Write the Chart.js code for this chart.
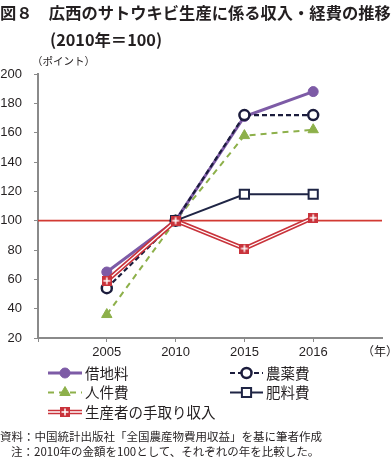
<!DOCTYPE html>
<html><head><meta charset="utf-8">
<script src="https://cdn.jsdelivr.net/npm/chart.js@4"></script>
<style>
html,body{margin:0;padding:0;background:#fff;}
#wrap{position:relative;width:392px;height:459px;overflow:hidden;font-family:"Noto Sans CJK JP",sans-serif;color:#231f20;}
canvas{position:absolute;left:0;top:0;}
.t{position:absolute;white-space:nowrap;line-height:1;}
</style></head><body>
<div id="wrap">
<canvas id="c" width="392" height="459"></canvas>
<div class="t" style="left:0;top:4px;font-size:16.3px;font-weight:700;">図８　広西のサトウキビ生産に係る収入・経費の推移</div>
<div class="t" style="left:50px;top:31px;font-size:16.3px;font-weight:700;">(2010年＝100)</div>
<div class="t" style="left:32px;top:56px;font-size:10.5px;">（ポイント）</div>
<div class="t" style="left:362px;top:345px;font-size:12px;">（年）</div>
<div class="t" style="left:0;top:431px;font-size:11.5px;">資料：中国統計出版社「全国農産物費用収益」を基に筆者作成</div>
<div class="t" style="left:11px;top:446px;font-size:11.5px;">注：2010年の金額を100として、それぞれの年を比較した。</div>
</div>
<script>
// ---- data ----
const categories = ['2005', '2010', '2015', '2016'];
const rent   = [65, 100, 171, 188];   // 借地料
const pest   = [54, 100, 172, 172];   // 農薬費
const labor  = [36, 100, 158, 162];   // 人件費
const fert   = [null, 100, 118, 118]; // 肥料費
const income = [59, 100, 81, 102];    // 生産者の手取り収入
const baseLine = [100, 100];          // 基準線 (2010年=100)
const yTicks = [20, 40, 60, 80, 100, 120, 140, 160, 180, 200];

const pts = arr => arr.map((v, i) => ({x: i + 1, y: v}));

// red square marker with white cross
function makeIncomeMarker(s) {
  const c = document.createElement('canvas');
  c.width = s; c.height = s;
  const g = c.getContext('2d');
  g.fillStyle = '#C9333B';
  g.fillRect(0, 0, s, s);
  g.strokeStyle = '#fff';
  g.lineWidth = 1.5;
  g.beginPath();
  g.moveTo(s/2, 1.5); g.lineTo(s/2, s-1.5);
  g.moveTo(1.5, s/2); g.lineTo(s-1.5, s/2);
  g.stroke();
  return c;
}
const incomeMarker = makeIncomeMarker(10);

const RED = '#C9333B', PURPLE = '#7D5BA6', NAVY = '#1B1C3C', GREEN = '#8DB04A', NAVY2 = '#1F2545';

const datasets = [
  {label: '基準', data: [{x: 0, y: baseLine[0]}, {x: 5, y: baseLine[1]}], borderColor: '#D23A33', borderWidth: 1.6, pointRadius: 0, order: 20},
  {label: '人件費', data: pts(labor), borderColor: GREEN, borderWidth: 2, borderDash: [6, 5], pointStyle: 'triangle', pointRadius: 6, pointBackgroundColor: GREEN, pointBorderColor: GREEN, pointBorderWidth: 1, order: 9},
  {label: '肥料費', data: pts(fert), borderColor: NAVY2, borderWidth: 2, pointStyle: 'rect', pointRadius: 6.5, pointBackgroundColor: '#fff', pointBorderColor: NAVY2, pointBorderWidth: 2, order: 8},
  {label: '借地料', data: pts(rent), borderColor: PURPLE, borderWidth: 3, pointStyle: 'circle', pointRadius: 5, pointBackgroundColor: PURPLE, pointBorderColor: PURPLE, pointBorderWidth: 1, order: 7},
  {label: '農薬費', data: pts(pest), borderColor: NAVY, borderWidth: 2.2, borderDash: [5, 3], pointStyle: 'circle', pointRadius: 5, pointBackgroundColor: '#fff', pointBorderColor: NAVY, pointBorderWidth: 2.5, order: 6},
  {label: '生産者の手取り収入', data: pts(income), borderColor: RED, borderWidth: 4.6, pointRadius: 0, order: 3},
  {label: '_incomeInner', data: pts(income), borderColor: '#fff', borderWidth: 1.3, pointRadius: 0, order: 2},
  {label: '_incomeMarks', data: pts(income), showLine: false, pointStyle: incomeMarker, pointRadius: 5, order: 1}
];

// legend drawn from datasets' styles
const legendItems = [
  {label: '借地料', col: 0, row: 0},
  {label: '農薬費', col: 1, row: 0},
  {label: '人件費', col: 0, row: 1},
  {label: '肥料費', col: 1, row: 1},
  {label: '生産者の手取り収入', col: 0, row: 2}
];
const legendPlugin = {
  id: 'customLegend',
  afterDraw(chart) {
    const ctx = chart.ctx;
    const cols = [{x0: 48, x1: 82, tx: 85}, {x0: 230, x1: 263, tx: 266}];
    const rowsY = [373, 392.5, 412];
    legendItems.forEach(it => {
      const ds = chart.data.datasets.find(d => d.label === it.label);
      const c = cols[it.col], y = rowsY[it.row], xm = (c.x0 + c.x1) / 2;
      ctx.save();
      ctx.beginPath();
      ctx.strokeStyle = ds.borderColor;
      ctx.lineWidth = ds.borderWidth;
      ctx.setLineDash(ds.borderDash || []);
      ctx.moveTo(c.x0, y); ctx.lineTo(c.x1, y);
      ctx.stroke();
      ctx.setLineDash([]);
      let markDs = ds;
      if (it.label === '生産者の手取り収入') {
        const inner = chart.data.datasets.find(d => d.label === '_incomeInner');
        ctx.beginPath();
        ctx.strokeStyle = inner.borderColor; ctx.lineWidth = inner.borderWidth;
        ctx.moveTo(c.x0, y); ctx.lineTo(c.x1, y); ctx.stroke();
        markDs = chart.data.datasets.find(d => d.label === '_incomeMarks');
      }
      ctx.fillStyle = markDs.pointBackgroundColor || '#fff';
      ctx.strokeStyle = markDs.pointBorderColor || '#000';
      ctx.lineWidth = markDs.pointBorderWidth || 1;
      Chart.helpers.drawPoint(ctx, {pointStyle: markDs.pointStyle, radius: markDs.pointRadius, rotation: 0, borderWidth: markDs.pointBorderWidth || 1}, xm, y);
      ctx.fillStyle = '#231f20';
      ctx.font = '14.5px "Noto Sans CJK JP"';
      ctx.textBaseline = 'middle';
      ctx.textAlign = 'left';
      ctx.fillText(it.label, c.tx, y);
      ctx.restore();
    });
  }
};

new Chart(document.getElementById('c'), {
  type: 'line',
  data: {datasets},
  plugins: [legendPlugin],
  options: {
    responsive: false,
    devicePixelRatio: 1,
    animation: false,
    layout: {padding: {left: 0, top: 74, right: 10, bottom: 100}},
    plugins: {legend: {display: false}, tooltip: {enabled: false}, title: {display: false}},
    elements: {line: {tension: 0}},
    scales: {
      x: {
        type: 'linear', min: 0, max: 5,
        afterFit: s => { s.height = 21; },
        border: {display: true, color: '#8a8a8a', width: 2},
        grid: {drawOnChartArea: false, drawTicks: true, tickLength: 4,
               color: c => (c.tick && c.tick.value >= 0 && c.tick.value <= 4) ? '#8a8a8a' : 'rgba(0,0,0,0)'},
        ticks: {stepSize: 1, autoSkip: false, maxRotation: 0, padding: 3,
                color: '#231f20', font: {family: 'Liberation Sans', size: 13},
                callback: v => categories[v - 1] || ''}
      },
      y: {
        min: yTicks[0], max: yTicks[yTicks.length - 1],
        afterFit: s => { s.width = 38; },
        afterBuildTicks: s => { s.ticks = yTicks.map(v => ({value: v})); },
        border: {display: true, color: '#8a8a8a', width: 2},
        grid: {drawOnChartArea: false, drawTicks: true, tickLength: 4, color: '#8a8a8a'},
        ticks: {padding: 12, color: '#231f20', font: {family: 'Liberation Sans', size: 13}}
      }
    }
  }
});
</script>
</body></html>
